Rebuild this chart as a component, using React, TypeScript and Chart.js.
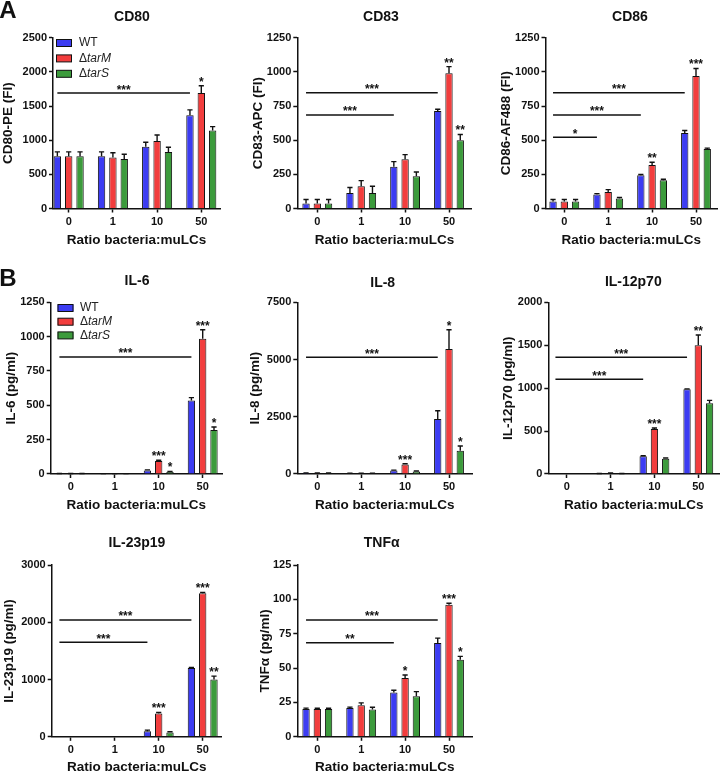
import React, { useEffect, useRef } from 'react';
import { Chart, registerables } from 'chart.js';

Chart.register(...registerables);

const FONT = '"Liberation Sans", Arial, Helvetica, sans-serif';
const INK = '#111';

const RATIOS = ['0', '1', '10', '50'];
const SERIES = ['WT', 'ΔtarM', 'ΔtarS'];
const COLORS = ['#3c3cf2', '#f23d3d', '#3c9b3c'];
const X_TITLE = 'Ratio bacteria:muLCs';

// ---- CD80 ----
const CD80_WT = [765, 765, 905, 1365];
const CD80_TARM = [765, 745, 988, 1690];
const CD80_TARS = [765, 725, 828, 1140];
const CD80_ERR_WT = [64, 64, 64, 78];
const CD80_ERR_TARM = [64, 72, 88, 107];
const CD80_ERR_TARS = [64, 68, 68, 59];
const CD80_SIG = [{ from: 0, to: 3, value: 1690, label: '***' }];
const CD80_STARS = [{ series: 1, group: 3, label: '*' }];

// ---- CD83 ----
const CD83_WT = [36, 114, 306, 714];
const CD83_TARM = [36, 163, 360, 989];
const CD83_TARS = [36, 114, 236, 500];
const CD83_ERR_WT = [30, 40, 37, 12];
const CD83_ERR_TARM = [30, 41, 34, 49];
const CD83_ERR_TARS = [30, 49, 31, 42];
const CD83_SIG = [
  { from: 0, to: 3, value: 848, label: '***' },
  { from: 0, to: 2, value: 685, label: '***' },
];
const CD83_STARS = [
  { series: 1, group: 3, label: '**' },
  { series: 2, group: 3, label: '**' },
];

// ---- CD86 ----
const CD86_WT = [51, 102, 243, 552];
const CD86_TARM = [51, 121, 318, 970];
const CD86_TARS = [51, 73, 207, 435];
const CD86_ERR_WT = [15, 7, 7, 19];
const CD86_ERR_TARM = [15, 17, 20, 55];
const CD86_ERR_TARS = [15, 7, 7, 7];
const CD86_SIG = [
  { from: 0, to: 3, value: 848, label: '***' },
  { from: 0, to: 2, value: 685, label: '***' },
  { from: 0, to: 1, value: 522, label: '*' },
];
const CD86_STARS = [
  { series: 1, group: 2, label: '**' },
  { series: 1, group: 3, label: '***' },
];

// ---- IL-6 ----
const IL6_WT = [3, 2, 25, 536];
const IL6_TARM = [3, 2, 95, 985];
const IL6_TARS = [3, 2, 15, 320];
const IL6_ERR_WT = [1, 1, 5, 20];
const IL6_ERR_TARM = [1, 1, 5, 65];
const IL6_ERR_TARS = [1, 1, 4, 22];
const IL6_SIG = [{ from: 0, to: 3, value: 852, label: '***' }];
const IL6_STARS = [
  { series: 1, group: 2, label: '***' },
  { series: 2, group: 2, label: '*' },
  { series: 1, group: 3, label: '***' },
  { series: 2, group: 3, label: '*' },
];

// ---- IL-8 ----
const IL8_WT = [40, 25, 150, 2400];
const IL8_TARM = [35, 25, 420, 5460];
const IL8_TARS = [35, 25, 110, 1020];
const IL8_ERR_WT = [10, 10, 20, 364];
const IL8_ERR_TARM = [10, 10, 30, 844];
const IL8_ERR_TARS = [10, 10, 20, 204];
const IL8_SIG = [{ from: 0, to: 3, value: 5100, label: '***' }];
const IL8_STARS = [
  { series: 1, group: 2, label: '***' },
  { series: 1, group: 3, label: '*' },
  { series: 2, group: 3, label: '*' },
];

// ---- IL-12p70 ----
const IL12_WT = [0, 3, 206, 987];
const IL12_TARM = [0, 8, 524, 1499];
const IL12_TARS = [0, 3, 178, 823];
const IL12_ERR_WT = [0, 2, 6, 4];
const IL12_ERR_TARM = [0, 4, 12, 120];
const IL12_ERR_TARS = [0, 2, 8, 35];
const IL12_SIG = [
  { from: 0, to: 3, value: 1360, label: '***' },
  { from: 0, to: 2, value: 1103, label: '***' },
];
const IL12_STARS = [
  { series: 1, group: 2, label: '***' },
  { series: 1, group: 3, label: '**' },
];

// ---- IL-23p19 ----
const IL23_WT = [0, 0, 99, 1200];
const IL23_TARM = [0, 0, 408, 2505];
const IL23_TARS = [0, 0, 76, 1002];
const IL23_ERR_WT = [0, 0, 17, 12];
const IL23_ERR_TARM = [0, 0, 17, 17];
const IL23_ERR_TARS = [0, 0, 11, 58];
const IL23_SIG = [
  { from: 0, to: 3, value: 2040, label: '***' },
  { from: 0, to: 2, value: 1650, label: '***' },
];
const IL23_STARS = [
  { series: 1, group: 2, label: '***' },
  { series: 1, group: 3, label: '***' },
  { series: 2, group: 3, label: '**' },
];

// ---- TNFα ----
const TNF_WT = [20.3, 21, 32.2, 68.2];
const TNF_TARM = [20.2, 23, 42.8, 96];
const TNF_TARS = [20.2, 19.8, 29.5, 56.1];
const TNF_ERR_WT = [0.6, 0.6, 1.7, 3.6];
const TNF_ERR_TARM = [0.6, 1.7, 2.2, 1.2];
const TNF_ERR_TARS = [0.6, 1.7, 3.4, 2.4];
const TNF_SIG = [
  { from: 0, to: 3, value: 85, label: '***' },
  { from: 0, to: 2, value: 68.5, label: '**' },
];
const TNF_STARS = [
  { series: 1, group: 2, label: '*' },
  { series: 1, group: 3, label: '***' },
  { series: 2, group: 3, label: '*' },
];

type Sig = { from: number; to: number; value: number; label: string };
type Star = { series: number; group: number; label: string };
type Rect = { left: number; top: number; width: number; height: number };
type Area = { left: number; right: number; top: number; bottom: number };
type Panel = {
  title: string;
  yTitle: string;
  yMax: number;
  yStep: number;
  values: number[][];
  errors: number[][];
  sig: Sig[];
  stars: Star[];
  legend?: { boxX: number; textX: number; y: number; gap: number };
  canvas: Rect;
  area: Area;
  c0: number;
  c3: number;
  yLabX: number;
  xLabY: number;
  titleX: number;
  titleY: number;
};

const TICK_SIZE = 11;
const AXIS_TITLE_SIZE = 13.5;
const TITLE_SIZE = 14;
const STAR_SIZE = 12;

const ROW_A_CANVAS = { top: 0, height: 250 };
const ROW_B_CANVAS = { top: 262, height: 252 };
const ROW_C_CANVAS = { top: 520, height: 260 };
const ROW_A_AREA = { top: 37.7, bottom: 208.5 };
const ROW_B_AREA = { top: 302.3, bottom: 474 };
const ROW_C_AREA = { top: 565, bottom: 736.8 };

const PANELS: Panel[] = [
  {
    title: 'CD80', yTitle: 'CD80-PE (FI)', yMax: 2500, yStep: 500,
    values: [CD80_WT, CD80_TARM, CD80_TARS], errors: [CD80_ERR_WT, CD80_ERR_TARM, CD80_ERR_TARS],
    sig: CD80_SIG, stars: CD80_STARS,
    legend: { boxX: 56, textX: 79, y: 43, gap: 15.4 },
    canvas: { left: 0, width: 240, ...ROW_A_CANVAS }, area: { left: 53, right: 220, ...ROW_A_AREA },
    c0: 68.7, c3: 201.3, yLabX: 8.3, xLabY: 240.7, titleX: 132, titleY: 16,
  },
  {
    title: 'CD83', yTitle: 'CD83-APC (FI)', yMax: 1250, yStep: 250,
    values: [CD83_WT, CD83_TARM, CD83_TARS], errors: [CD83_ERR_WT, CD83_ERR_TARM, CD83_ERR_TARS],
    sig: CD83_SIG, stars: CD83_STARS,
    canvas: { left: 240, width: 240, ...ROW_A_CANVAS }, area: { left: 297.3, right: 471.7, ...ROW_A_AREA },
    c0: 317.3, c3: 449, yLabX: 258.3, xLabY: 240.7, titleX: 381, titleY: 16,
  },
  {
    title: 'CD86', yTitle: 'CD86-AF488 (FI)', yMax: 1250, yStep: 250,
    values: [CD86_WT, CD86_TARM, CD86_TARS], errors: [CD86_ERR_WT, CD86_ERR_TARM, CD86_ERR_TARS],
    sig: CD86_SIG, stars: CD86_STARS,
    canvas: { left: 480, width: 240, ...ROW_A_CANVAS }, area: { left: 545.5, right: 717, ...ROW_A_AREA },
    c0: 564.3, c3: 696, yLabX: 506.7, xLabY: 240.7, titleX: 630, titleY: 16,
  },
  {
    title: 'IL-6', yTitle: 'IL-6 (pg/ml)', yMax: 1250, yStep: 250,
    values: [IL6_WT, IL6_TARM, IL6_TARS], errors: [IL6_ERR_WT, IL6_ERR_TARM, IL6_ERR_TARS],
    sig: IL6_SIG, stars: IL6_STARS,
    legend: { boxX: 57.5, textX: 80, y: 308, gap: 13.7 },
    canvas: { left: 0, width: 240, ...ROW_B_CANVAS }, area: { left: 50.7, right: 222, ...ROW_B_AREA },
    c0: 70.7, c3: 202.7, yLabX: 11.7, xLabY: 505, titleX: 137, titleY: 280,
  },
  {
    title: 'IL-8', yTitle: 'IL-8 (pg/ml)', yMax: 7500, yStep: 2500,
    values: [IL8_WT, IL8_TARM, IL8_TARS], errors: [IL8_ERR_WT, IL8_ERR_TARM, IL8_ERR_TARS],
    sig: IL8_SIG, stars: IL8_STARS,
    canvas: { left: 240, width: 240, ...ROW_B_CANVAS }, area: { left: 297.3, right: 472, ...ROW_B_AREA },
    c0: 317.3, c3: 449, yLabX: 255, xLabY: 505, titleX: 382.7, titleY: 281.7,
  },
  {
    title: 'IL-12p70', yTitle: 'IL-12p70 (pg/ml)', yMax: 2000, yStep: 500,
    values: [IL12_WT, IL12_TARM, IL12_TARS], errors: [IL12_ERR_WT, IL12_ERR_TARM, IL12_ERR_TARS],
    sig: IL12_SIG, stars: IL12_STARS,
    canvas: { left: 480, width: 240, ...ROW_B_CANVAS }, area: { left: 548.3, right: 719, ...ROW_B_AREA },
    c0: 566.7, c3: 698.3, yLabX: 508.3, xLabY: 505, titleX: 633.3, titleY: 280.7,
  },
  {
    title: 'IL-23p19', yTitle: 'IL-23p19 (pg/ml)', yMax: 3000, yStep: 1000,
    values: [IL23_WT, IL23_TARM, IL23_TARS], errors: [IL23_ERR_WT, IL23_ERR_TARM, IL23_ERR_TARS],
    sig: IL23_SIG, stars: IL23_STARS,
    canvas: { left: 0, width: 240, ...ROW_C_CANVAS }, area: { left: 51.7, right: 221.7, ...ROW_C_AREA },
    c0: 70.7, c3: 202.7, yLabX: 9.3, xLabY: 767.7, titleX: 137, titleY: 541.7,
  },
  {
    title: 'TNFα', yTitle: 'TNFα (pg/ml)', yMax: 125, yStep: 25,
    values: [TNF_WT, TNF_TARM, TNF_TARS], errors: [TNF_ERR_WT, TNF_ERR_TARM, TNF_ERR_TARS],
    sig: TNF_SIG, stars: TNF_STARS,
    canvas: { left: 240, width: 240, ...ROW_C_CANVAS }, area: { left: 297.3, right: 472, ...ROW_C_AREA },
    c0: 317.3, c3: 449, yLabX: 265, xLabY: 767.7, titleX: 381.7, titleY: 541.7,
  },
];

function PanelChart({ p }: { p: Panel }) {
  const ref = useRef<HTMLCanvasElement>(null);
  useEffect(() => {
    if (!ref.current) return;
    const c = p.canvas;
    const a = p.area;
    const lh = AXIS_TITLE_SIZE * 1.2;
    const pl = p.yLabX - c.left - lh / 2;
    const yw = a.left - c.left - pl;
    const pr = c.left + c.width - a.right;
    const pt = a.top - c.top;
    const pb = c.top + c.height - p.xLabY - lh / 2;
    const xh = c.top + c.height - pb - a.bottom;
    const s = (p.c3 - p.c0) / 3;
    const xMin = -(p.c0 - a.left) / s;
    const xMax = 3 + (a.right - p.c3) / s;

    const annot = {
      id: 'annot',
      afterDatasetsDraw(chart: any) {
        const ctx = chart.ctx as CanvasRenderingContext2D;
        const ys = chart.scales.y;
        ctx.save();
        ctx.strokeStyle = INK;
        ctx.fillStyle = INK;
        ctx.lineWidth = 1.4;
        // error bars (upper only)
        p.values.forEach((vals, di) => {
          const meta = chart.getDatasetMeta(di);
          meta.data.forEach((el: any, i: number) => {
            const e = p.errors[di][i];
            if (!e) return;
            const x = el.x;
            const y0 = ys.getPixelForValue(vals[i]);
            const y1 = ys.getPixelForValue(vals[i] + e);
            ctx.beginPath();
            ctx.moveTo(x, y0);
            ctx.lineTo(x, y1);
            ctx.moveTo(x - 2.6, y1);
            ctx.lineTo(x + 2.6, y1);
            ctx.stroke();
          });
        });
        ctx.font = `bold ${STAR_SIZE}px ${FONT}`;
        ctx.textAlign = 'center';
        ctx.textBaseline = 'alphabetic';
        // significance brackets
        const m0 = chart.getDatasetMeta(0);
        p.sig.forEach((sg) => {
          const x1 = m0.data[sg.from].x;
          const x2 = m0.data[sg.to].x;
          const y = ys.getPixelForValue(sg.value);
          ctx.lineWidth = 1.5;
          ctx.beginPath();
          ctx.moveTo(x1, y);
          ctx.lineTo(x2, y);
          ctx.stroke();
          ctx.fillText(sg.label, (x1 + x2) / 2, y + 0.5);
        });
        // stars over bars
        p.stars.forEach((st) => {
          const el = chart.getDatasetMeta(st.series).data[st.group];
          const v = p.values[st.series][st.group] + p.errors[st.series][st.group];
          const y = ys.getPixelForValue(v);
          ctx.fillText(st.label, el.x, y);
        });
        // legend
        if (p.legend) {
          const lg = p.legend;
          ctx.textAlign = 'left';
          ctx.textBaseline = 'middle';
          SERIES.forEach((name, i) => {
            const cy = lg.y + i * lg.gap - c.top;
            const bx = lg.boxX - c.left;
            ctx.fillStyle = COLORS[i];
            ctx.fillRect(bx, cy - 3.5, 16, 7);
            ctx.lineWidth = 1;
            ctx.strokeStyle = INK;
            ctx.strokeRect(bx + 0.5, cy - 3.5, 15, 7);
            ctx.fillStyle = '#222';
            const tx = lg.textX - c.left;
            if (name.startsWith('Δ')) {
              ctx.font = `12px ${FONT}`;
              ctx.fillText('Δ', tx, cy);
              const w = ctx.measureText('Δ').width;
              ctx.font = `italic 12px ${FONT}`;
              ctx.fillText(name.slice(1), tx + w, cy);
            } else {
              ctx.font = `12px ${FONT}`;
              ctx.fillText(name, tx, cy);
            }
          });
        }
        ctx.restore();
      },
    };

    const tickFont = { family: FONT, size: TICK_SIZE, weight: 'bold' as const };
    const titleFont = { family: FONT, size: AXIS_TITLE_SIZE, weight: 'bold' as const };

    const chart = new Chart(ref.current, {
      type: 'bar',
      data: {
        datasets: p.values.map((vals, di) => ({
          label: SERIES[di],
          data: vals.map((v, i) => ({ x: i, y: v })),
          backgroundColor: COLORS[di],
          borderColor: INK,
          borderWidth: 1,
          categoryPercentage: 0.77,
          barPercentage: 0.65,
        })),
      },
      options: {
        responsive: false,
        animation: false,
        events: [],
        layout: { autoPadding: false, padding: { left: pl, right: pr, top: pt, bottom: pb } },
        plugins: {
          legend: { display: false },
          tooltip: { enabled: false },
          title: { display: false },
        },
        scales: {
          x: {
            type: 'linear',
            min: xMin,
            max: xMax,
            offset: false,
            grid: { display: true, drawOnChartArea: false, drawTicks: true, tickLength: 4, tickWidth: 1.5, tickColor: INK, offset: false },
            border: { display: true, color: INK, width: 1.5 },
            ticks: {
              stepSize: 1,
              includeBounds: false,
              autoSkip: false,
              maxRotation: 0,
              padding: 2.6,
              color: INK,
              font: tickFont,
              callback: (v: any) => (Number.isInteger(v) && RATIOS[v] !== undefined ? RATIOS[v] : ''),
            },
            title: { display: true, text: X_TITLE, color: INK, font: titleFont, padding: 0 },
            afterFit: (sc: any) => { sc.height = xh; },
          },
          y: {
            type: 'linear',
            min: 0,
            max: p.yMax,
            grid: { display: true, drawOnChartArea: false, drawTicks: true, tickLength: 4, tickWidth: 1.5, tickColor: INK },
            border: { display: true, color: INK, width: 1.5 },
            ticks: { stepSize: p.yStep, padding: 2, color: INK, font: tickFont, callback: (v: any) => String(v) },
            title: { display: true, text: p.yTitle, color: INK, font: titleFont, padding: 0 },
            afterFit: (sc: any) => { sc.width = yw; },
          },
        },
      } as any,
      plugins: [annot],
    });
    return () => chart.destroy();
  }, [p]);

  return (
    <canvas
      ref={ref}
      width={p.canvas.width}
      height={p.canvas.height}
      style={{ position: 'absolute', left: p.canvas.left, top: p.canvas.top, width: p.canvas.width, height: p.canvas.height }}
    />
  );
}

export default function App() {
  const titleStyle = (x: number, y: number, size: number): React.CSSProperties => ({
    position: 'absolute',
    left: x,
    top: y,
    transform: 'translate(-50%, -50%)',
    font: `bold ${size}px ${FONT}`,
    color: INK,
    whiteSpace: 'nowrap',
    lineHeight: 1,
  });
  return (
    <div style={{ position: 'absolute', left: 0, top: 0, width: 720, height: 774, overflow: 'hidden', background: '#fff' }}>
      {PANELS.map((p) => (
        <PanelChart key={p.title} p={p} />
      ))}
      {PANELS.map((p) => (
        <div key={'t' + p.title} style={titleStyle(p.titleX, p.titleY, TITLE_SIZE)}>{p.title}</div>
      ))}
      <div style={titleStyle(8, 10, 24)}>A</div>
      <div style={titleStyle(8, 278, 24)}>B</div>
    </div>
  );
}
